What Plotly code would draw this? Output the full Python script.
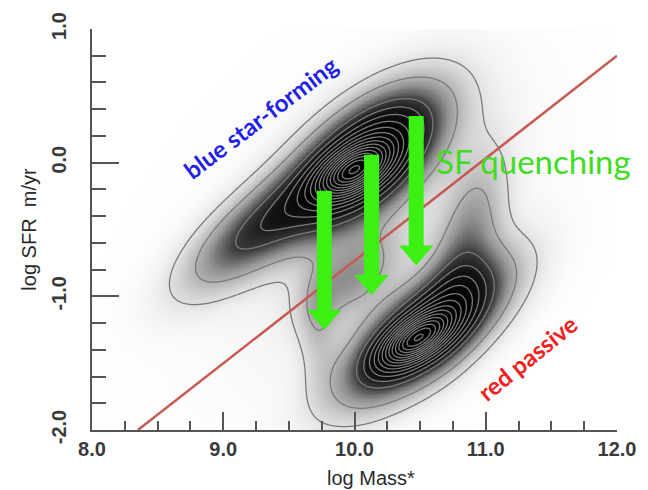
import numpy as np
import plotly.graph_objects as go

# Galaxy population in the stellar-mass / star-formation-rate plane,
# described as a sum of tilted Gaussian components.
comp_mass = [9.99, 10.08, 9.25, 10.47, 10.54, 10.85, 9.72, 10.10, 9.98]
comp_sfr = [-0.06, 0.02, -0.50, -1.32, -1.26, -0.60, -1.20, -0.50, -0.85]
comp_sig_major = [0.20, 0.45, 0.45, 0.20, 0.47, 0.45, 0.30, 1.00, 0.30]
comp_sig_minor = [0.10, 0.22, 0.17, 0.09, 0.19, 0.16, 0.10, 0.60, 0.16]
comp_angle = [30, 40, 38, 32, 38, 75, 90, 45, 40]
comp_weight = [0.50, 0.55, 0.22, 0.50, 0.50, 0.14, 0.06, 0.03, 0.12]

# Quenching arrows (mass, start SFR, end SFR)
arrow_mass = [9.77, 10.13, 10.47]
arrow_start = [-0.21, 0.06, 0.35]
arrow_end = [-1.25, -0.99, -0.77]

# Dividing line between star-forming and passive galaxies
divide_mass = [8.35, 12.0]
divide_sfr = [-2.0, 0.8]

x_ticks = [8, 9, 10, 11, 12]
x_ticktext = ["8.0", "9.0", "10.0", "11.0", "12.0"]
y_ticks = [-2, -1, 0, 1]
y_ticktext = ["-2.0", "-1.0", "0.0", "1.0"]

mass_grid = np.linspace(8.0, 12.0, 401)
sfr_grid = np.linspace(-2.0, 1.0, 301)
M, S = np.meshgrid(mass_grid, sfr_grid)
density = np.zeros_like(M)
for mx, my, a, b, ang, w in zip(comp_mass, comp_sfr, comp_sig_major,
                                comp_sig_minor, comp_angle, comp_weight):
    th = np.radians(ang)
    dx, dy = M - mx, S - my
    u = dx * np.cos(th) + dy * np.sin(th)
    v = -dx * np.sin(th) + dy * np.cos(th)
    density += w * np.exp(-0.5 * ((u / a) ** 2 + (v / b) ** 2))

gray_scale = [
    [0.0, "#ffffff"], [0.04, "#efefef"], [0.09, "#d4d4d4"], [0.2, "#929292"],
    [0.3, "#3c3c3c"], [0.42, "#121212"], [0.6, "#040404"], [1.0, "#000000"],
]

fig = go.Figure()
fig.add_trace(go.Heatmap(
    x=mass_grid, y=sfr_grid, z=density, colorscale=gray_scale,
    zmin=0, zmax=0.75, showscale=False, zsmooth="best", hoverinfo="skip",
))
fig.add_trace(go.Contour(
    x=mass_grid, y=sfr_grid, z=density, showscale=False,
    contours=dict(coloring="none", start=0.05, end=1.6, size=0.06),
    line=dict(color="#7a7a7a", width=1.3, smoothing=1), hoverinfo="skip",
))
fig.add_trace(go.Scatter(
    x=divide_mass, y=divide_sfr, mode="lines",
    line=dict(color="#c65a52", width=2.5), hoverinfo="skip",
))

green = "#3cf014"
head_half = 0.13
head_len = 0.15
for ax, y0, y1 in zip(arrow_mass, arrow_start, arrow_end):
    fig.add_trace(go.Scatter(
        x=[ax, ax], y=[y0, y1 + head_len * 0.9], mode="lines",
        line=dict(color=green, width=15), hoverinfo="skip",
    ))
    fig.add_trace(go.Scatter(
        x=[ax - head_half, ax + head_half, ax, ax - head_half],
        y=[y1 + head_len, y1 + head_len, y1, y1 + head_len],
        mode="lines", fill="toself", fillcolor=green,
        line=dict(width=0, color=green), hoverinfo="skip",
    ))

fig.add_annotation(x=9.28, y=0.34, text="<b>blue star-forming</b>", showarrow=False,
                   textangle=-37, font=dict(family="Lato", size=24, color="#1f1fe6"))
fig.add_annotation(x=11.36, y=0.01, text="SF quenching", showarrow=False,
                   font=dict(family="Lato", size=33, color="#3fdc22"))
fig.add_annotation(x=11.32, y=-1.46, text="<b>red passive</b>", showarrow=False,
                   textangle=-39, font=dict(family="Lato", size=24, color="#f02020"))

title_font = dict(family="Liberation Sans", size=20, color="#2a2a2a")
fig.add_annotation(xref="paper", yref="paper", x=0.531, y=0, yshift=-48,
                   yanchor="middle", text="log Mass*", showarrow=False, font=title_font)

axis_font = dict(family="Liberation Sans", size=20, color="#3a3a3a")
fig.update_xaxes(
    range=[8, 12], showgrid=False, zeroline=False, showline=True,
    linecolor="#555555", linewidth=2, ticks="inside", ticklen=18, tickwidth=2,
    tickcolor="#555555", tickvals=x_ticks, ticktext=[f"<b>{t}</b>" for t in x_ticktext],
    tickfont=axis_font,
    minor=dict(dtick=0.25, ticks="inside", ticklen=9, tickwidth=2, tickcolor="#555555"),
)
fig.update_yaxes(
    range=[-2, 1], showgrid=False, zeroline=False, showline=True,
    linecolor="#555555", linewidth=2, ticks="inside", ticklen=27, tickwidth=2,
    tickcolor="#555555", tickvals=y_ticks, ticktext=[f"<b>{t}</b>" for t in y_ticktext],
    tickfont=axis_font, tickangle=-90, ticklabelstandoff=16,
    minor=dict(dtick=0.2, ticks="inside", ticklen=14, tickwidth=2, tickcolor="#555555"),
    title=dict(text="log SFR\u00a0\u00a0m/yr", font=title_font, standoff=6),
)
fig.update_layout(
    width=648, height=490, margin=dict(l=92, r=25, t=25, b=60),
    paper_bgcolor="white", plot_bgcolor="white", showlegend=False,
)
fig.write_html("out.html")
